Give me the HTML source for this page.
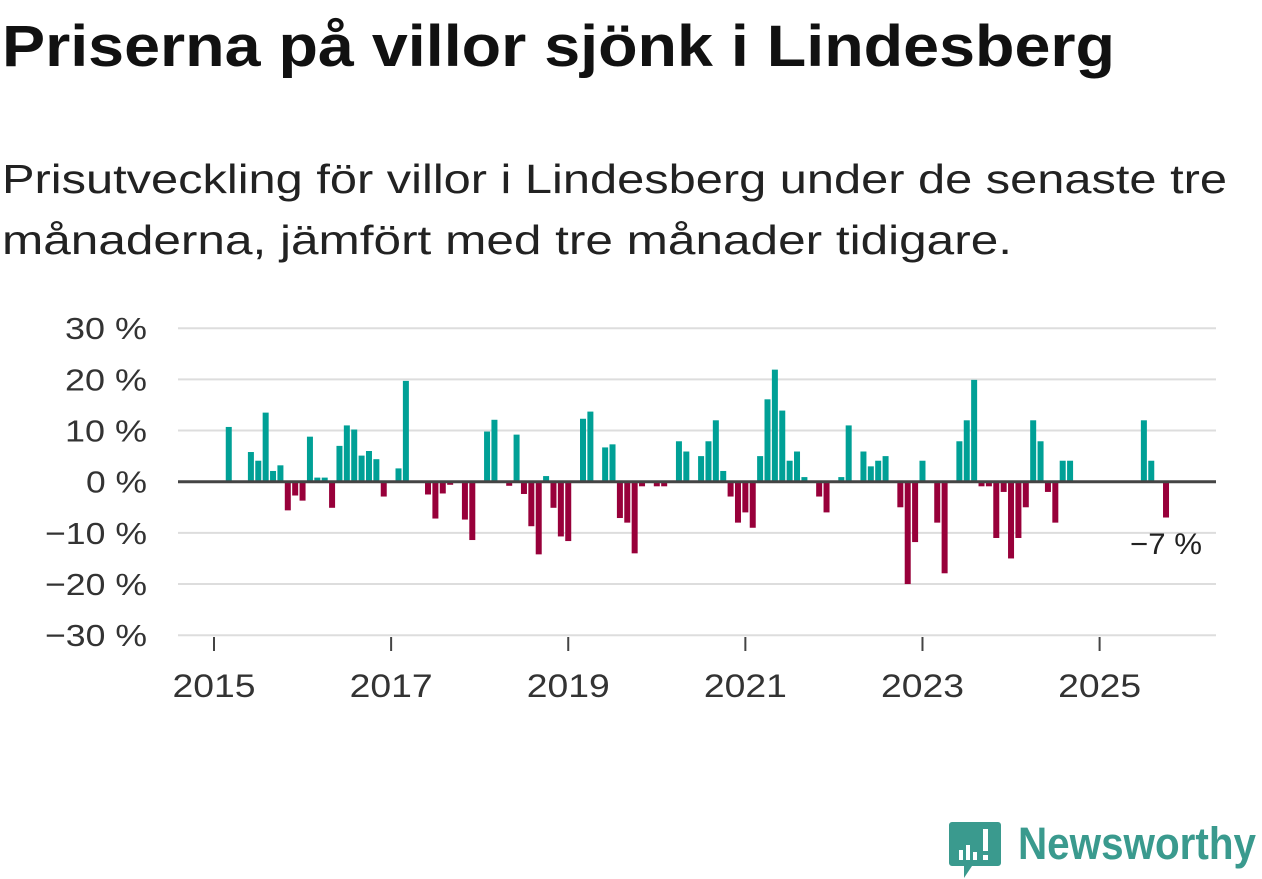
<!DOCTYPE html>
<html><head><meta charset="utf-8">
<style>
html,body{margin:0;padding:0;background:#fff;}
svg{display:block;font-family:"Liberation Sans","DejaVu Sans",sans-serif;}
</style></head>
<body>
<svg id="chart" width="1262" height="879" viewBox="0 0 1262 879" xmlns="http://www.w3.org/2000/svg">
<text x="2" y="66" font-size="58" font-weight="bold" fill="#111" textLength="1113" lengthAdjust="spacingAndGlyphs">Priserna på villor sjönk i Lindesberg</text>
<text x="2" y="193" font-size="41" fill="#222" textLength="1225" lengthAdjust="spacingAndGlyphs">Prisutveckling för villor i Lindesberg under de senaste tre</text>
<text x="2" y="254" font-size="41" fill="#222" textLength="1010" lengthAdjust="spacingAndGlyphs">månaderna, jämfört med tre månader tidigare.</text>
<g id="grid"></g>
<g id="bars"></g>
<g id="axes"></g>
<text x="1202" y="554" font-size="30" fill="#222" text-anchor="end" textLength="72" lengthAdjust="spacingAndGlyphs">−7 %</text>
<g>
<path d="M952 822 h46 a3 3 0 0 1 3 3 v38 a3 3 0 0 1 -3 3 h-26 l-8 12 v-12 h-12 a3 3 0 0 1 -3 -3 v-38 a3 3 0 0 1 3 -3z" fill="#3a9a8e"/>
<rect x="959" y="850" width="4" height="10" fill="#fff"/>
<rect x="966" y="845" width="4" height="15" fill="#fff"/>
<rect x="973" y="852" width="4" height="8" fill="#fff"/>
<rect x="983" y="829" width="5" height="22" fill="#fff"/>
<rect x="983" y="855" width="5" height="5" fill="#fff"/>
<text x="1018" y="859" font-size="45" font-weight="bold" fill="#3a9a8e" textLength="238" lengthAdjust="spacingAndGlyphs">Newsworthy</text>
</g>
</svg>
<script>
// monthly change (%) from Jan 2015, index 0 = 2015-01
const startYear = 2015;
const values = [
0,0,10.7,0,0,5.8,4.1,13.5,2.1,3.2,-5.6,-2.7,
-3.7,8.8,0.8,0.8,-5.1,7.0,11.0,10.2,5.1,6.0,4.4,-2.9,
0,2.6,19.7,0,0,-2.5,-7.2,-2.3,-0.6,0,-7.4,-11.4,
0,9.8,12.1,0,-0.8,9.2,-2.4,-8.7,-14.2,1.1,-5.1,-10.7,
-11.6,0,12.3,13.7,0,6.7,7.3,-7.1,-8.0,-14.0,-0.9,0,
-0.9,-0.9,0,7.9,5.9,0,5.0,7.9,12.0,2.1,-2.9,-8.0,
-6.0,-9.0,5.0,16.1,21.9,13.9,4.1,5.9,0.9,0,-2.9,-6.0,
0,0.9,11.0,0,5.9,3.0,4.1,5.0,0,-5.0,-20.0,-11.8,
4.1,0,-8.0,-17.9,0,7.9,12.0,19.9,-0.9,-0.9,-11.0,-2.0,
-15.0,-11.0,-5.0,12.0,7.9,-2.0,-8.0,4.1,4.1,0,0,0,
0,0,0,0,0,0,12.0,4.1,0,-7.0
];
const yTicks = [30,20,10,0,-10,-20,-30];
const xTicks = [2015,2017,2019,2021,2023,2025];

const NS = "http://www.w3.org/2000/svg";
const x0 = 214, pxPerYear = 88.56;
const xScale = t => x0 + (t - 2015) * pxPerYear;
const y0 = 481.7, pxPerPct = 5.117;
const yScale = v => y0 - v * pxPerPct;
function mk(tag, attrs){ const e=document.createElementNS(NS,tag); for(const k in attrs) e.setAttribute(k,attrs[k]); return e; }

const grid = document.getElementById('grid');
yTicks.forEach(v => {
  if (v !== 0) {
    const l = mk('line',{x1:178,x2:1216,y1:yScale(v),y2:yScale(v),stroke:'#dddddd','stroke-width':2});
    
    
    grid.appendChild(l);
  }
  const label = (v < 0 ? '−' + Math.abs(v) : v) + ' %';
  const w = v === 0 ? 61 : (v < 0 ? 102 : 82);
  const t = mk('text',{x:147,y:yScale(v)+11,'font-size':31,fill:'#333','text-anchor':'end',textLength:w,lengthAdjust:'spacingAndGlyphs'});
  t.textContent = label;
  
  
  grid.appendChild(t);
});

const bars = document.getElementById('bars');
values.forEach((v, i) => {
  if (!v) return;
  const cx = xScale(startYear + i / 12);
  const top = Math.min(yScale(v), y0), h = Math.abs(yScale(v) - y0);
  const r = mk('rect',{x:cx-3,y:top,width:6,height:h,fill: v > 0 ? '#00a096' : '#98003a'});
  
  
  bars.appendChild(r);
});

const axes = document.getElementById('axes');
const zl = mk('line',{x1:178,x2:1216,y1:y0,y2:y0,stroke:'#444','stroke-width':3});


axes.appendChild(zl);
xTicks.forEach(yr => {
  const x = xScale(yr);
  const tk = mk('line',{x1:x,x2:x,y1:637,y2:651,stroke:'#444','stroke-width':2});
  
  
  axes.appendChild(tk);
  const t = mk('text',{x:x,y:697,'font-size':32,fill:'#333','text-anchor':'middle',textLength:83,lengthAdjust:'spacingAndGlyphs'});
  t.textContent = yr;
  
  
  axes.appendChild(t);
});
</script>
</body></html>
